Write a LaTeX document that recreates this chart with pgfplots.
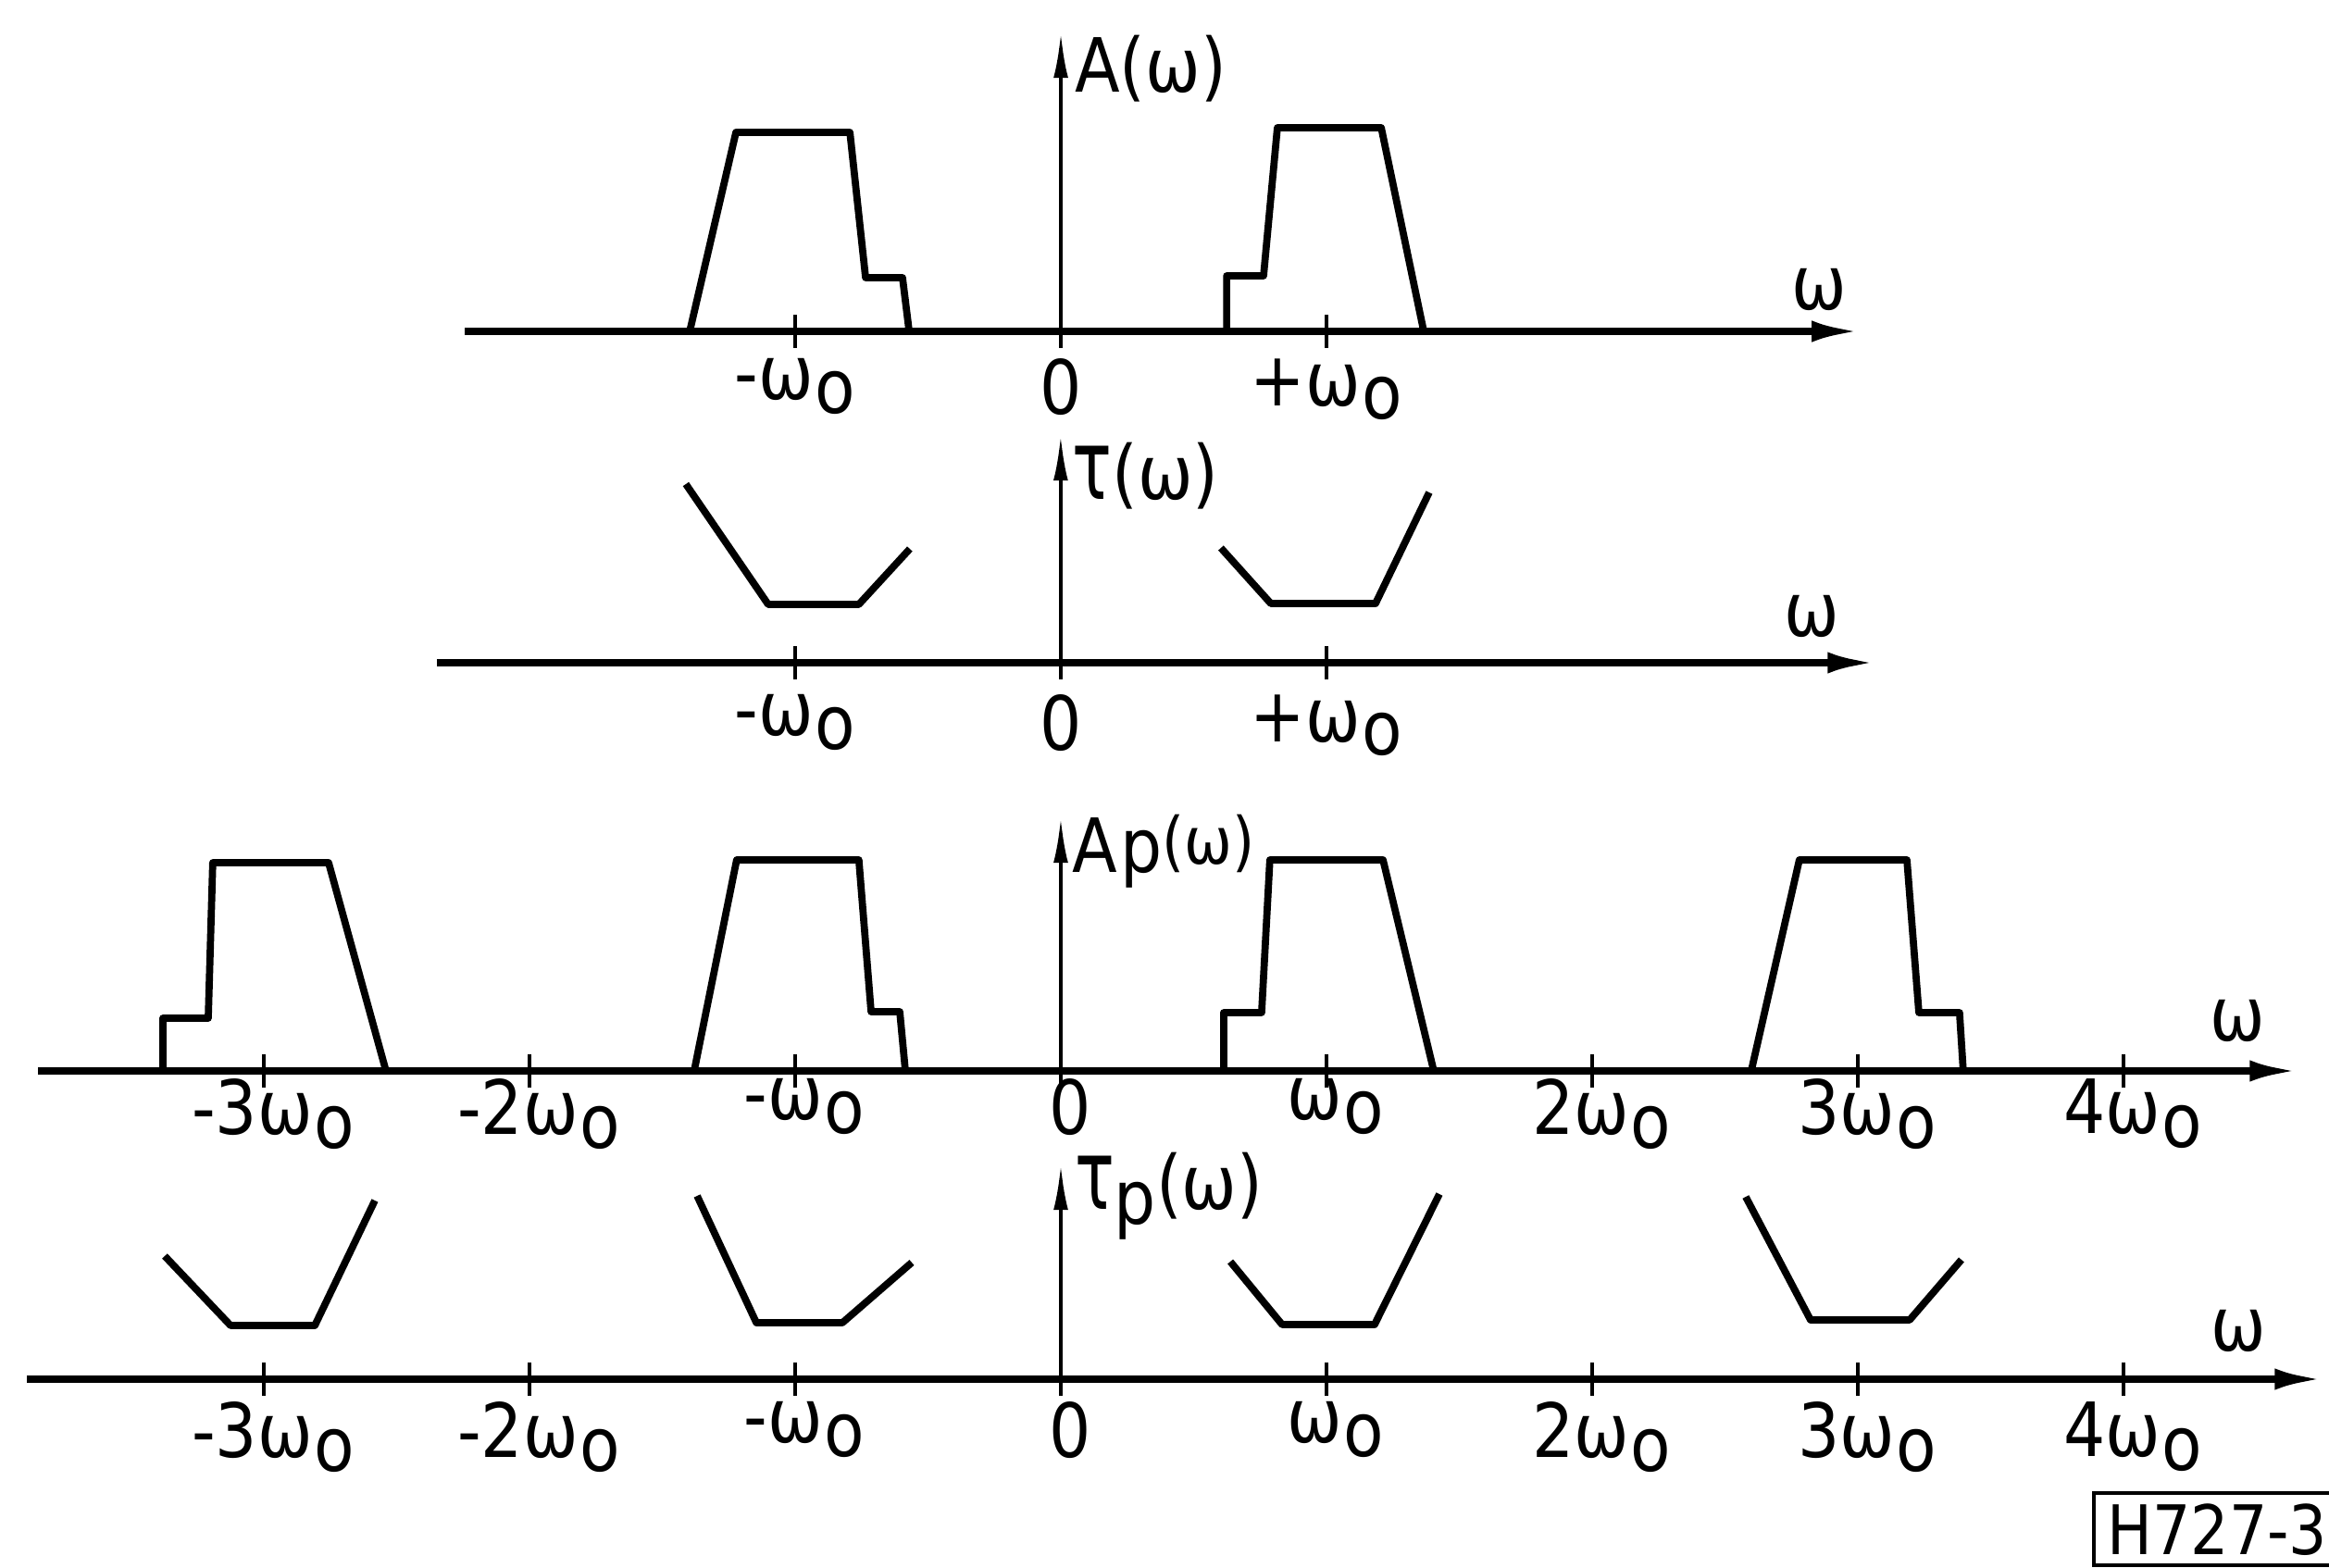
\documentclass[border=0pt]{standalone}
\usepackage{graphicx}
\usepackage{pgfplots}
\pgfplotsset{compat=1.18}
\usetikzlibrary{arrows.meta}
\usepackage{fontspec}
\setmainfont[FakeStretch=0.88]{DejaVu Sans}

% omega-naught as in the lettering: a lowered o after the omega
\newcommand\wo{ω\kern0.4pt\raisebox{-0.18em}{o}}
\newcommand\tauglyph{\scalebox{1}[1.3]{τ}}

\tikzset{lbl/.style={font=\fontsize{23}{26}\selectfont}}

\pgfplotsset{
  panel/.style={
    x=2.87cm, y=1cm,
    axis lines=middle,
    enlargelimits=false,
    clip=false,
    anchor=south west,
    hide obscured x ticks=false,
    ytick=\empty,
    xtick align=center,
    major tick length=0.36cm,
    tick style={line width=1.2pt, black},
    x axis line style={line width=2.3pt, -{Latex[length=15pt,width=6.5pt]}},
    y axis line style={line width=1.2pt, -{Latex[length=14pt,width=4.5pt]}},
    every tick label/.append style={font=\fontsize{23}{26}\selectfont},
    xticklabel style={anchor=north, inner sep=0pt},
  },
  curve/.style={line width=2.2pt, line join=round, black, mark=none},
}

\begin{document}
\begin{tikzpicture}
\path[use as bounding box] (0,0) rectangle (25.16,16.93);
\begin{scope}
\clip (0,0) rectangle (25.16,16.93);

% amplitude A(omega)
\begin{axis}[panel, at={(5.02cm,13.25cm)},
  xmin=-2.244, xmax=3.010, ymin=-0.10, ymax=3.23,
  xtick={-1,0,1}, xticklabels={-\wo\hspace{0.3cm},0,+\wo},
  xticklabel style={yshift=-0.11cm}]
  \addplot[curve] coordinates {(-1.397,0) (-1.223,2.15) (-0.794,2.15) (-0.735,0.58) (-0.596,0.58) (-0.571,0)};
  \addplot[curve] coordinates {(0.624,0) (0.624,0.60) (0.763,0.60) (0.815,2.20) (1.206,2.20) (1.366,0)};
  \node[lbl, anchor=base west, inner sep=0pt] at (axis cs:0.05,2.58) {A(ω)};
  \node[lbl] at (axis cs:2.854,0.45) {ω};
\end{axis}

% group delay tau(omega)
\begin{axis}[panel, at={(4.72cm,9.67cm)},
  xmin=-2.348, xmax=3.070, ymin=-0.10, ymax=2.46,
  xtick={-1,0,1}, xticklabels={-\wo\hspace{0.2cm},0,+\wo},
  xticklabel style={yshift=-0.16cm}]
  \addplot[curve] coordinates {(-1.411,1.93) (-1.101,0.63) (-0.760,0.63) (-0.568,1.23)};
  \addplot[curve] coordinates {(0.603,1.24) (0.791,0.64) (1.185,0.64) (1.387,1.84)};
  \node[lbl, anchor=base west, inner sep=0pt] at (axis cs:0.042,1.76) {\tauglyph(ω)};
  \node[lbl] at (axis cs:2.826,0.50) {ω};
\end{axis}

% periodic amplitude Ap(omega)
\begin{axis}[panel, at={(0.41cm,5.28cm)},
  xmin=-3.850, xmax=4.659, ymin=-0.08, ymax=2.74,
  xtick={-3,-2,-1,0,1,2,3,4},
  xticklabels={-3\wo,-2\wo,-\wo,0,\wo,2\wo,3\wo,4\wo},
  xticklabel style={yshift=0.10cm, xshift=0.1cm}]
  \addplot[curve] coordinates {(-3.380,0) (-3.380,0.57) (-3.209,0.57) (-3.192,2.25) (-2.756,2.25) (-2.540,0)};
  \addplot[curve] coordinates {(-1.380,0) (-1.220,2.28) (-0.760,2.28) (-0.714,0.64) (-0.606,0.64) (-0.585,0)};
  \addplot[curve] coordinates {(0.613,0) (0.613,0.63) (0.756,0.63) (0.787,2.28) (1.213,2.28) (1.404,0)};
  \addplot[curve] coordinates {(2.599,0) (2.780,2.28) (3.185,2.28) (3.230,0.63) (3.383,0.63) (3.397,0)};
  \node[lbl, anchor=base west, inner sep=0pt] at (axis cs:0.04,2.15) {A\kern1pt p\raisebox{0.1em}{\fontsize{20}{22}\selectfont(ω)}};
  \node[lbl] at (axis cs:4.429,0.54) {ω};
\end{axis}

% periodic group delay tau_p(omega)
\begin{axis}[panel, at={(0.29cm,1.95cm)},
  xmin=-3.892, xmax=4.753, ymin=-0.08, ymax=2.32,
  xtick={-3,-2,-1,0,1,2,3,4},
  xticklabels={-3\wo,-2\wo,-\wo,0,\wo,2\wo,3\wo,4\wo},
  xticklabel style={yshift=-0.06cm, xshift=0.1cm}]
  \addplot[curve] coordinates {(-3.373,1.33) (-3.125,0.58) (-2.808,0.58) (-2.582,1.93)};
  \addplot[curve] coordinates {(-1.369,1.98) (-1.146,0.61) (-0.822,0.61) (-0.561,1.26)};
  \addplot[curve] coordinates {(0.638,1.27) (0.833,0.59) (1.181,0.59) (1.425,2.00)};
  \addplot[curve] coordinates {(2.578,1.97) (2.822,0.64) (3.195,0.64) (3.390,1.29)};
  \node[lbl, anchor=base west, inner sep=0pt] at (axis cs:0.05,1.84) {\tauglyph\raisebox{-0.2em}{p}(ω)};
  \node[lbl] at (axis cs:4.432,0.52) {ω};
\end{axis}

% drawing number
\draw[line width=1.4pt] (22.62,0.02) rectangle (25.30,0.80);
\node[anchor=west, inner sep=0pt, font=\fontsize{21}{23}\selectfont] at (22.76,0.40) {H727-3};
\end{scope}
\end{tikzpicture}
\end{document}
